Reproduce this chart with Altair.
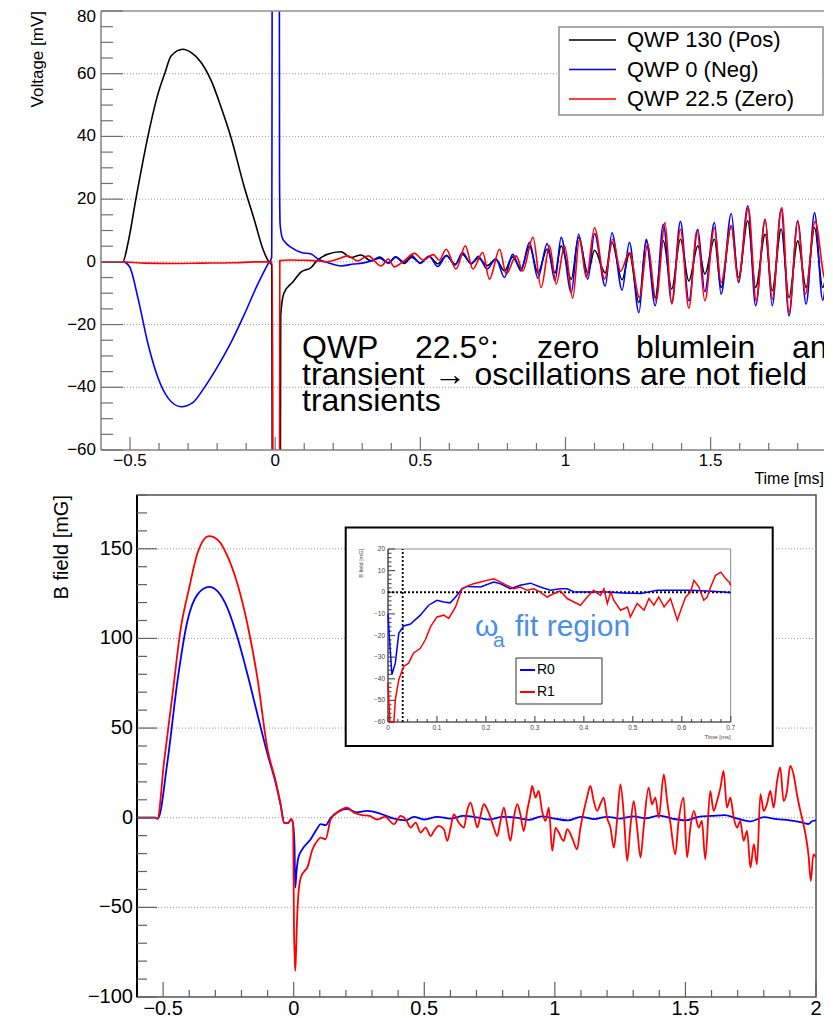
import altair as alt
import pandas as pd

FONT = "Liberation Sans"

# ======================= TOP PANEL (Voltage) =======================
top_names = ["QWP 130 (Pos)", "QWP 0 (Neg)", "QWP 22.5 (Zero)"]
top_colors = ["#000000", "#0000ff", "#ff0000"]

osc_t = [0.33, 0.36, 0.39, 0.415, 0.445, 0.47, 0.50, 0.53, 0.56, 0.59, 0.62, 0.645,
         0.675, 0.70, 0.73, 0.76, 0.79, 0.818, 0.847, 0.876, 0.905, 0.937, 0.964, 0.985,
         1.02, 1.045, 1.077, 1.10, 1.137, 1.16, 1.195, 1.22, 1.253, 1.278, 1.309, 1.337,
         1.366, 1.396, 1.425, 1.456, 1.48, 1.513, 1.536, 1.571, 1.596, 1.628, 1.655, 1.688,
         1.712, 1.743, 1.77, 1.80, 1.829, 1.858, 1.886, 1.915, 1.94]

pos_t = [-0.60, -0.525, -0.507, -0.479, -0.438, -0.404, -0.381, -0.358, -0.318, -0.289,
         -0.255, -0.22, -0.186, -0.152, -0.106, -0.071, -0.042, -0.025, -0.012, -0.008,
         0.016, 0.019, 0.03, 0.06, 0.09, 0.124, 0.14, 0.18, 0.227, 0.26, 0.296] + osc_t
pos_v = [0, 0, 6.0, 20.5, 40.2, 53.5, 59.9, 65.7, 67.8, 66.7,
         63.6, 57.7, 49.2, 39.6, 23.7, 13.1, 4.0, 0.5, -1.0, -150,
         -150, -17, -10, -6.5, -3.2, -1.8, 0.0, 2.4, 3.2, 1.4, 2.2,
         0.3, 1.5, -0.3, 1.6, -0.5, 1.5, -0.3, 1.8, -0.6, 2.0, -0.8, 2.4,
         -0.5, 1.2, -1.2, 0.8, -2.9, 1.6, -2.2, 5.1, -3.5, 4.1, -3.5, 5.1,
         -5.5, 7.8, -3.5, 3.7, -3.5, 6.2, -5.7, 2.5, -13.0, 6.7, -11.4, 6.7,
         -8.7, 7.2, -6.1, 5.1, -3.9, 7.2, -8.2, 11.5, -5.0, 13.1, -8.2, 8.8,
         -9.2, 10.5, -11.4, 6.7, -8.2, 10.9, -8.2, 5.0, -6.0]

neg_t = [-0.60, -0.525, -0.502, -0.473, -0.438, -0.404, -0.37, -0.324, -0.284, -0.244,
         -0.197, -0.152, -0.106, -0.06, -0.025, -0.012, -0.008, 0.013, 0.015, 0.017,
         0.025, 0.032, 0.055, 0.09, 0.124, 0.147, 0.18, 0.227, 0.27, 0.30] + osc_t
neg_v = [0, 0, -1.5, -11.4, -26.2, -36.9, -43.3, -46.2, -44.9, -40.1,
         -33.2, -25.7, -16.7, -7.1, -0.7, 1.4, 250, 250, 27, 12,
         7.5, 6.5, 4.6, 3.0, 2.5, 0.9, -0.2, -1.3, -0.7, -0.4,
         0.3, 1.2, -0.5, 1.5, 0.0, 2.0, -0.5, 1.8, -1.5, 2.0, -1.0, 3.0,
         -0.7, 1.8, -2.3, 1.0, -5.0, 2.4, -2.9, 6.2, -5.2, 5.8, -6.0, 7.8,
         -9.8, 8.8, -5.5, 9.0, -7.7, 9.3, -9.0, 6.2, -16.2, 7.2, -14.0, 12.0,
         -13.0, 12.9, -12.4, 10.4, -9.5, 12.5, -10.3, 15.4, -6.6, 17.9, -14.0, 13.6,
         -14.0, 16.8, -17.2, 13.1, -13.5, 15.7, -12.2, 9.8, -8.0]

zero_t = [-0.60, -0.53, -0.45, -0.35, -0.25, -0.15, -0.06, -0.01, -0.005, 0.014,
          0.016, 0.05, 0.10, 0.15, 0.18, 0.216, 0.25, 0.284, 0.32, 0.365,
          0.39, 0.41, 0.44, 0.48, 0.51, 0.545, 0.565, 0.589, 0.623, 0.655,
          0.681, 0.715, 0.738, 0.773, 0.796, 0.83, 0.853, 0.888, 0.916, 0.945,
          0.968, 0.997, 1.025, 1.048, 1.072, 1.10, 1.135, 1.163, 1.19, 1.22,
          1.255, 1.283, 1.312, 1.343, 1.366, 1.396, 1.425, 1.453, 1.48, 1.513,
          1.536, 1.571, 1.595, 1.63, 1.657, 1.688, 1.712, 1.745, 1.77, 1.80,
          1.826, 1.86, 1.895, 1.92, 1.945]
zero_v = [0, 0, -0.4, -0.5, -0.4, -0.3, 0, 0, -150, -150,
          0.4, 0.6, 0.5, 0.3, 0.0, 0.9, 1.9, 0.3, 1.9, -1.3,
          0.9, -1.6, 0.0, 2.7, 0.5, 2.3, 0.5, 4.0, -2.3, 5.1,
          -2.3, 3.0, -5.5, 4.0, -3.9, 1.9, -2.9, 7.8, -8.2, 5.1,
          -7.1, 5.1, -11.6, 7.2, -5.0, 10.9, -5.5, 7.2, -3.0, 3.0,
          -11.4, 5.7, -12.4, 12.5, -13.5, 10.4, -14.8, 10.1, -12.4, 10.9,
          -6.6, 11.5, -6.1, 17.3, -12.4, 13.6, -11.9, 17.3, -16.2, 12.9,
          -10.3, 12.9, -5.5, 8.0, -6.0]

top_y_major = [-60, -40, -20, 0, 20, 40, 60, 80]
top_y_grid = [-40, -20, 0, 20, 40, 60]
top_y_minor = [v for v in range(-60, 81, 5) if v % 20 != 0]
top_x_major = [-0.5, 0, 0.5, 1, 1.5]
top_x_minor = [-0.4, -0.3, -0.2, -0.1, 0.1, 0.2, 0.3, 0.4, 0.6, 0.7, 0.8, 0.9,
               1.1, 1.2, 1.3, 1.4, 1.6, 1.7, 1.8]

annot_line1 = ["QWP", "22.5°:", "zero", "blumlein", "and"]
annot_line2 = "transient → oscillations are not field"
annot_line3 = "transients"

# ======================= BOTTOM PANEL (B field) =======================
bot_names = ["R0", "R1"]
bot_colors = ["#0000ff", "#ff0000"]

r0_t = [-0.60, -0.53, -0.52, -0.483, -0.445, -0.407, -0.368, -0.324, -0.292, -0.254,
        -0.215, -0.177, -0.139, -0.10, -0.07, -0.05, -0.037, -0.022, -0.009, -0.002,
        0.003, 0.006, 0.011, 0.018, 0.033, 0.065, 0.09, 0.103, 0.122, 0.142,
        0.167, 0.205, 0.24, 0.282, 0.333, 0.384, 0.43, 0.46, 0.50, 0.55,
        0.60, 0.65, 0.70, 0.75, 0.80, 0.85, 0.90, 0.95, 1.00, 1.05,
        1.10, 1.15, 1.20, 1.25, 1.30, 1.35, 1.40, 1.45, 1.50, 1.55,
        1.60, 1.65, 1.70, 1.75, 1.80, 1.85, 1.90, 1.94, 1.97, 1.985, 2.0]
r0_v = [0, 0, -0.5, 31.7, 76.3, 109.7, 124.6, 128.7, 126.4, 117.1,
        100.4, 80.0, 57.7, 35.4, 20.0, 7.0, -2.7, -3.0, -0.8, -4.0,
        -15.0, -39.0, -29.7, -22.2, -17.6, -12.0, -6.0, -3.6, -4.2, 0.0,
        3.0, 5.0, 3.0, 3.8, 2.2, -0.5, -1.5, 0.5, -1.0, 0.5,
        -0.5, 1.0, 0.2, -1.0, 0.5, 0.0, -1.2, 0.8, -0.5, -1.5,
        0.5, -0.8, 0.5, -0.5, 0.8, -0.3, 1.2, -0.5, -1.5, 0.5,
        1.0, 1.5, -0.5, -2.0, 0.3, -0.8, -1.5, -2.5, -3.5, -2.0, -1.5]

r1_t = [-0.60, -0.53, -0.522, -0.496, -0.464, -0.432, -0.40, -0.368, -0.324, -0.286,
        -0.254, -0.215, -0.177, -0.139, -0.10, -0.07, -0.05, -0.037, -0.022, -0.009,
        -0.002, 0.001, 0.004, 0.006, 0.009, 0.011, 0.018, 0.027, 0.04, 0.052,
        0.072, 0.09, 0.103, 0.122, 0.142, 0.167, 0.205, 0.23, 0.26, 0.29,
        0.32, 0.35, 0.384,
        0.409, 0.429, 0.448, 0.467, 0.486, 0.505, 0.525, 0.537, 0.556, 0.575,
        0.588, 0.601, 0.613, 0.632, 0.652, 0.664, 0.677, 0.690, 0.703, 0.715,
        0.728, 0.741, 0.754, 0.766, 0.779, 0.792, 0.805, 0.817, 0.830, 0.843,
        0.856, 0.868, 0.881, 0.894, 0.907, 0.913, 0.926, 0.938, 0.951, 0.964,
        0.977, 0.990, 1.003, 1.015, 1.034, 1.047, 1.066, 1.085, 1.098, 1.111,
        1.123, 1.136, 1.149, 1.162, 1.174, 1.187, 1.200, 1.213, 1.226, 1.238,
        1.251, 1.264, 1.277, 1.289, 1.302, 1.315, 1.328, 1.340, 1.359, 1.372,
        1.385, 1.398, 1.417, 1.430, 1.443, 1.461, 1.474, 1.493, 1.506, 1.519,
        1.532, 1.551, 1.563, 1.576, 1.595, 1.608, 1.621, 1.634, 1.646, 1.659,
        1.672, 1.685, 1.698, 1.710, 1.723, 1.736, 1.749, 1.762, 1.774, 1.787,
        1.800, 1.812, 1.825, 1.838, 1.851, 1.863, 1.876, 1.889, 1.901, 1.914,
        1.927, 1.940, 1.952, 1.962, 1.971, 1.980, 1.990, 2.0]
r1_v = [0, 0, -0.5, 31.7, 68.8, 106.0, 128.3, 147.8, 157.1, 154.3,
        146.0, 130.2, 107.9, 78.0, 38.0, 21.0, 7.5, -2.7, -3.0, -0.8,
        -4.0, -61.0, -78.0, -85.4, -75.0, -65.0, -42.7, -33.4, -30.0, -27.8,
        -17.6, -13.0, -11.1, -12.0, -0.8, 2.9, 5.6, 2.9, 1.5, 1.0,
        -1.0, 0.5, -3.6,
        1.0, -0.9, -5.5, -2.7, -8.3, -5.5, -10.2, -7.4, -4.6, -6.4,
        -12.9, -5.5, 1.9, -2.7, -5.5, 3.8, 8.4, 1.9, -5.5, 1.0,
        7.5, 4.7, 0.0, -5.5, -10.2, -1.8, 5.6, -3.6, -12.9, 0.0,
        7.5, 1.9, -7.4, 3.8, 13.1, 17.7, 11.2, 14.9, 3.8, -1.8,
        5.6, -18.5, -5.5, -8.3, -12.9, -6.4, -11.1, -17.6, -5.5, 3.8,
        11.2, 17.7, 9.3, 3.8, 7.5, 11.2, 0.0, -5.5, -16.7, -1.8,
        18.6, 1.9, -24.1, -5.5, 9.3, -5.5, -22.2, -5.5, 16.8, 7.5,
        11.2, 0.0, 24.2, 9.3, -3.6, -20.4, -1.8, 11.2, -22.2, -5.5,
        3.8, -5.5, -1.8, -23.2, 14.9, 3.8, 9.3, 16.8, 26.1, 5.6,
        11.2, 0.0, -5.5, -1.8, -12.9, -7.4, -27.8, -14.8, -26.0, 13.1,
        3.8, 7.5, 14.9, 5.6, 20.5, 28.0, 9.3, 14.9, 28.9, 24.2,
        13.1, 3.8, -3.6, -11.1, -20.4, -35.3, -20.4, -22.2]

bot_y_major = [-100, -50, 0, 50, 100, 150]
bot_y_grid = [-50, 0, 50, 100, 150]
bot_y_minor = [v for v in range(-100, 181, 10) if v % 50 != 0]
bot_x_major = [-0.5, 0, 0.5, 1, 1.5, 2]
bot_x_minor = [-0.4, -0.3, -0.2, -0.1, 0.1, 0.2, 0.3, 0.4, 0.6, 0.7, 0.8, 0.9,
               1.1, 1.2, 1.3, 1.4, 1.6, 1.7, 1.8, 1.9]

# ----- inset (zoom of the first 0.7 ms) -----
in_r0_t = [0.0, 0.004, 0.008, 0.015, 0.022, 0.032, 0.046, 0.066, 0.083, 0.10,
           0.114, 0.127, 0.138, 0.151, 0.162, 0.189, 0.216, 0.23, 0.25, 0.27,
           0.291, 0.311, 0.332, 0.352, 0.366, 0.38, 0.414, 0.448, 0.482, 0.516,
           0.55, 0.584, 0.618, 0.652, 0.686, 0.70]
in_r0_v = [-10.0, -25.0, -38.1, -32.8, -19.0, -15.6, -14.7, -10.6, -6.0, -3.7,
           -4.5, -4.9, -2.2, 1.6, 2.7, 2.4, 4.7, 3.9, 1.6, 3.2,
           4.2, 2.4, 0.9, 1.6, 1.6, 0.1, 0.1, 0.1, -0.3, -0.6,
           0.9, 0.9, 0.9, 0.6, 0.1, -0.2]
in_r1_t = [0.0, 0.004, 0.012, 0.015, 0.022, 0.032, 0.042, 0.052, 0.066, 0.076,
           0.087, 0.10, 0.114, 0.124, 0.138, 0.151, 0.165, 0.175, 0.189, 0.202,
           0.216, 0.23, 0.243, 0.257, 0.27, 0.284, 0.298, 0.311, 0.325, 0.339,
           0.352, 0.366, 0.38, 0.393, 0.407, 0.42, 0.434, 0.441, 0.448, 0.455,
           0.461, 0.475, 0.489, 0.495, 0.509, 0.523, 0.533, 0.543, 0.553, 0.564,
           0.577, 0.591, 0.598, 0.608, 0.618, 0.625, 0.635, 0.645, 0.652, 0.659,
           0.669, 0.68, 0.69, 0.697, 0.70]
in_r1_v = [-42.0, -60.0, -60.0, -49.6, -40.4, -34.3, -32.8, -28.2, -25.9, -22.1,
           -15.9, -11.4, -10.6, -12.1, -6.8, 1.6, 3.2, 3.9, 4.7, 5.5,
           6.2, 4.7, 3.2, 1.6, 2.4, 0.9, 1.6, 0.1, -2.2, -0.6,
           0.6, -2.9, -4.5, -6.0, -2.2, 0.9, -1.4, 1.6, -5.2, 0.1,
           -3.7, -8.3, -6.8, -11.4, -5.2, -8.3, -2.9, -6.0, -2.2, -6.8,
           -2.9, -12.9, -8.3, -2.2, 0.1, 5.5, 2.4, -3.7, -2.2, 2.4,
           7.8, 9.3, 6.2, 4.7, 3.2]
in_y_major = [-60, -50, -40, -30, -20, -10, 0, 10, 20]
in_y_minor = [v for v in range(-60, 21, 2) if v % 10 != 0]
in_x_major = [0, 0.1, 0.2, 0.3, 0.4, 0.5, 0.6, 0.7]
in_x_minor = [round(0.02 * i, 2) for i in range(36) if i % 5 != 0]
fit_cut = 0.03


def fmt(v):
    return f"{v:g}".replace("-", "\u2212")


# ======================= helpers =======================
def series_df(names, ts, vs):
    frames = []
    for n, t, v in zip(names, ts, vs):
        frames.append(pd.DataFrame({"t": t, "v": v, "s": n}))
    return pd.concat(frames, ignore_index=True)


def yticks(values, scale, x0, length, color):
    return alt.Chart(pd.DataFrame({"v": values})).mark_rule(color=color, strokeWidth=1.2).encode(
        y=alt.Y("v:Q", scale=scale, axis=None), x=alt.value(x0), x2=alt.value(x0 + length))


def xticks(values, scale, y0, length, color):
    return alt.Chart(pd.DataFrame({"t": values})).mark_rule(color=color, strokeWidth=1.2).encode(
        x=alt.X("t:Q", scale=scale, axis=None), y=alt.value(y0), y2=alt.value(y0 - length))


def hgrid(values, scale):
    return alt.Chart(pd.DataFrame({"v": values})).mark_rule(
        color="#9a9a9a", strokeWidth=1, strokeDash=[1, 2]).encode(
        y=alt.Y("v:Q", scale=scale, axis=None))


def vdomain(xval, scale, color, sw):
    return alt.Chart(pd.DataFrame({"t": [xval]})).mark_rule(color=color, strokeWidth=sw).encode(
        x=alt.X("t:Q", scale=scale, axis=None))


def hdomain(yval, scale, color, sw):
    return alt.Chart(pd.DataFrame({"v": [yval]})).mark_rule(color=color, strokeWidth=sw).encode(
        y=alt.Y("v:Q", scale=scale, axis=None))


def ylabels(values, scale, x, size, dy=0, color="#000000"):
    df = pd.DataFrame({"v": values, "lab": [fmt(v) for v in values]})
    return alt.Chart(df).mark_text(font=FONT, fontSize=size, align="right", baseline="middle",
                                   dy=dy, color=color).encode(
        y=alt.Y("v:Q", scale=scale, axis=None), x=alt.value(x), text="lab:N")


def xlabels(values, scale, y, size, color="#000000"):
    df = pd.DataFrame({"t": values, "lab": [fmt(v) for v in values]})
    return alt.Chart(df).mark_text(font=FONT, fontSize=size, align="center", baseline="top",
                                   color=color).encode(
        x=alt.X("t:Q", scale=scale, axis=None), y=alt.value(y), text="lab:N")


one = pd.DataFrame({"a": [0]})


def box(x1, x2, y1, y2, stroke, sw):
    return alt.Chart(one).mark_rect(fill="white", stroke=stroke, strokeWidth=sw).encode(
        x=alt.value(x1), x2=alt.value(x2), y=alt.value(y1), y2=alt.value(y2))


def label(text, x, y, size, color="#000000", baseline="alphabetic", align="left", angle=0, clip=False):
    return alt.Chart(pd.DataFrame({"txt": [text]})).mark_text(
        align=align, baseline=baseline, font=FONT, fontSize=size, color=color, angle=angle, clip=clip
    ).encode(text="txt:N", x=alt.value(x), y=alt.value(y))


def sample(x1, x2, y, color, sw):
    return alt.Chart(one).mark_rule(color=color, strokeWidth=sw).encode(
        x=alt.value(x1), x2=alt.value(x2), y=alt.value(y))


# ======================= top chart =======================
TW, TH = 723, 439
T_XMAX = -0.6 + TW / 290.3
tx = alt.Scale(domain=[-0.6, T_XMAX], nice=False, zero=False)
ty = alt.Scale(domain=[-60, 80], nice=False, zero=False)

top_df = series_df(top_names, [pos_t, neg_t, zero_t], [pos_v, neg_v, zero_v])
top_lines = alt.Chart(top_df).mark_line(strokeWidth=1.6, clip=True, interpolate="monotone").encode(
    x=alt.X("t:Q", scale=tx, axis=None),
    y=alt.Y("v:Q", scale=ty, axis=None),
    color=alt.Color("s:N", scale=alt.Scale(domain=top_names, range=top_colors), legend=None),
)

top_layers = [hgrid(top_y_grid, ty), top_lines,
              vdomain(-0.6, tx, "#808080", 1.5), hdomain(-60, ty, "#808080", 1.5),
              hdomain(80, ty, "#909090", 1.5),
              yticks(top_y_major, ty, 0, 22, "#707070"), yticks(top_y_minor, ty, 0, 12, "#707070"),
              xticks(top_x_major, tx, TH, 13, "#707070"), xticks(top_x_minor, tx, TH, 7, "#707070"),
              ylabels(top_y_major[:-1], ty, -5, 17), ylabels(top_y_major[-1:], ty, -5, 17, dy=6),
              xlabels(top_x_major, tx, TH + 3, 17),
              label("Voltage [mV]", -63, 0, 17, align="right", baseline="middle", angle=270),
              label("Time [ms]", TW, TH + 29, 16, align="right", baseline="middle"),
              box(458, 722, 16, 104, "#909090", 1.5)]
for i, (n, c) in enumerate(zip(top_names, top_colors)):
    yy = 29 + 29.5 * i
    top_layers.append(sample(468, 515, yy, c, 1.6))
    top_layers.append(label(n, 526, yy, 22, baseline="middle"))

line1_x = [201, 314, 436, 535, 691]
for w, xx in zip(annot_line1, line1_x):
    top_layers.append(label(w, xx, 347, 32, clip=True))
top_layers.append(label(annot_line2, 201, 374, 32, clip=True))
top_layers.append(label(annot_line3, 201, 400, 32, clip=True))

top = alt.layer(*top_layers).properties(
    width=TW, height=TH, view=alt.ViewBackground(strokeOpacity=0))

# ======================= bottom chart =======================
BW, BH = 679, 502
bx = alt.Scale(domain=[-0.6, 2.0], nice=False, zero=False)
by = alt.Scale(domain=[-100, 180], nice=False, zero=False)
bcol = alt.Scale(domain=bot_names, range=bot_colors)

bot_df = series_df(bot_names, [r0_t, r1_t], [r0_v, r1_v])
bot_lines = alt.Chart(bot_df).mark_line(strokeWidth=1.8, clip=True, interpolate="monotone").encode(
    x=alt.X("t:Q", scale=bx, axis=None),
    y=alt.Y("v:Q", scale=by, axis=None),
    color=alt.Color("s:N", scale=bcol, legend=None),
)
bot_main = alt.layer(
    hgrid(bot_y_grid, by), bot_lines,
    hdomain(-100, by, "#808080", 1.5), vdomain(-0.6, bx, "#000000", 2),
    yticks(bot_y_major, by, 0, 20, "#606060"), yticks(bot_y_minor, by, 0, 10, "#606060"),
    xticks(bot_x_major, bx, BH, 15, "#606060"), xticks(bot_x_minor, bx, BH, 7, "#606060"),
    ylabels(bot_y_major, by, -4, 20), xlabels(bot_x_major, bx, BH + 2, 20),
    label("B field [mG]", -75, 0, 20, align="right", baseline="middle", angle=270),
)

# ----- inset -----
IX0, IX1, IY0, IY1 = 251, 593.7, 54, 227
ix = alt.Scale(domain=[0, 0.7], range=[IX0, IX1], nice=False, zero=False)
iy = alt.Scale(domain=[-60, 20], range=[IY1, IY0], nice=False, zero=False, clamp=True)

in_df = series_df(bot_names, [in_r0_t, in_r1_t], [in_r0_v, in_r1_v])
in_lines = alt.Chart(in_df).mark_line(strokeWidth=1.5).encode(
    x=alt.X("t:Q", scale=ix, axis=None),
    y=alt.Y("v:Q", scale=iy, axis=None),
    color=alt.Color("s:N", scale=bcol, legend=None),
)
in_frame = alt.Chart(pd.DataFrame({"x0": [0], "x1": [0.7], "y0": [-60], "y1": [20]})).mark_rect(
    fillOpacity=0, stroke="#8a8a8a", strokeWidth=1).encode(
    x=alt.X("x0:Q", scale=ix, axis=None), x2="x1:Q",
    y=alt.Y("y0:Q", scale=iy, axis=None), y2="y1:Q")
in_axes = alt.Chart(pd.DataFrame({"x0": [0, 0], "x1": [0, 0.7], "y0": [-60, -60], "y1": [20, -60]})).mark_rule(
    color="#444", strokeWidth=1.2).encode(
    x=alt.X("x0:Q", scale=ix, axis=None), x2="x1:Q",
    y=alt.Y("y0:Q", scale=iy, axis=None), y2="y1:Q")
in_hline = alt.Chart(pd.DataFrame({"x0": [0], "x1": [0.7], "y": [0]})).mark_rule(
    color="#000", strokeWidth=1.8, strokeDash=[2, 2]).encode(
    x=alt.X("x0:Q", scale=ix, axis=None), x2="x1:Q", y=alt.Y("y:Q", scale=iy, axis=None))
in_vline = alt.Chart(pd.DataFrame({"x": [fit_cut], "y0": [-60], "y1": [20]})).mark_rule(
    color="#000", strokeWidth=1.8, strokeDash=[2, 2]).encode(
    x=alt.X("x:Q", scale=ix, axis=None), y=alt.Y("y0:Q", scale=iy, axis=None), y2="y1:Q")

in_layers = [box(208.7, 635.7, 32.5, 251, "#000000", 2), in_frame,
             yticks(in_y_major, iy, IX0, 7, "#555"), yticks(in_y_minor, iy, IX0, 3.5, "#555"),
             xticks(in_x_major, ix, IY1, 6, "#555"), xticks(in_x_minor, ix, IY1, 3, "#555"),
             in_axes, in_hline, in_vline, in_lines,
             xlabels(in_x_major, ix, IY1 + 3, 6.5, color="#444"),
             ylabels(in_y_major, iy, IX0 - 3, 6.5, color="#444"),
             label("B field [mG]", IX0 - 27, IY0, 5.5, color="#444", align="right",
                   baseline="middle", angle=270),
             label("Time [ms]", IX1, IY1 + 15, 6, color="#444", align="right", baseline="middle"),
             label("ω", 338, 141, 30, color="#4a8fe6"),
             label("a", 356, 152, 21, color="#4a8fe6"),
             label("fit region", 378, 141, 30, color="#4a8fe6"),
             box(379, 465, 163, 209, "#333333", 1)]
for i, (n, c) in enumerate(zip(bot_names, bot_colors)):
    yy = 175 + 22 * i
    in_layers.append(sample(383, 398, yy, c, 2))
    in_layers.append(label(n, 400, yy, 14, baseline="middle"))
bot_inset = alt.layer(*in_layers)

bottom = alt.layer(bot_main, bot_inset).resolve_scale(x="independent", y="independent").properties(
    width=BW, height=BH, view=alt.ViewBackground(stroke="#505050", strokeWidth=1.5))

spacer = alt.Chart(one).mark_point(opacity=0, size=1).encode(x=alt.value(1), y=alt.value(1)).properties(
    width=36, height=BH, view=alt.ViewBackground(strokeOpacity=0))

chart = alt.vconcat(
    top,
    alt.hconcat(spacer, bottom, spacing=0, bounds="flush"),
    spacing=45, bounds="flush",
).resolve_scale(color="independent").properties(
    padding={"left": 21, "top": 0, "right": 0, "bottom": 2}
).configure_view(strokeOpacity=0).configure(font=FONT)

chart.save("out.html", embed_options={"renderer": "svg", "actions": False})
